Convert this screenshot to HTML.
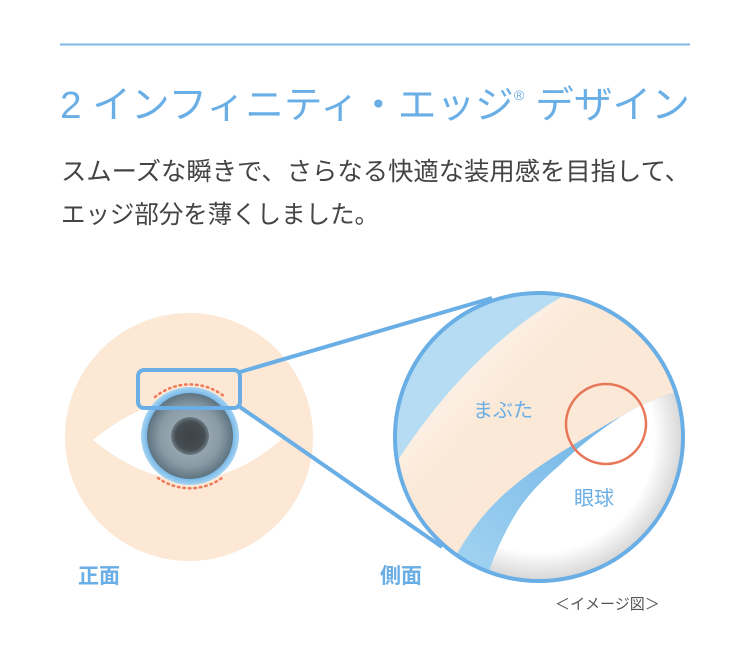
<!DOCTYPE html>
<html><head><meta charset="utf-8"><style>
html,body{margin:0;padding:0;background:#fff;}
svg{display:block;}
text{font-family:"Liberation Sans","Noto Sans CJK JP",sans-serif;}
</style></head><body>
<svg width="750" height="672" viewBox="0 0 750 672" xmlns="http://www.w3.org/2000/svg">
<defs>
<clipPath id="bc"><circle cx="539" cy="437" r="144"/></clipPath>
<radialGradient id="iris" cx="50%" cy="50%" r="50%">
<stop offset="0" stop-color="#a9b8c1"/><stop offset="0.7" stop-color="#8a9ba6"/><stop offset="1" stop-color="#5f7480"/></radialGradient>
<radialGradient id="pupil" cx="50%" cy="50%" r="50%">
<stop offset="0" stop-color="#3d4449"/><stop offset="0.75" stop-color="#454c52"/><stop offset="1" stop-color="#6d7a83"/></radialGradient>
<radialGradient id="ring" cx="50%" cy="50%" r="50%">
<stop offset="0.85" stop-color="#6fb3e6"/><stop offset="1" stop-color="#a6d4f2"/></radialGradient>
<radialGradient id="eb" cx="539" cy="437" r="144" gradientUnits="userSpaceOnUse">
<stop offset="0.8" stop-color="#fff"/><stop offset="1" stop-color="#d6d6d6"/></radialGradient>
<linearGradient id="lid" x1="0" y1="0" x2="1" y2="1">
<stop offset="0" stop-color="#fff"/><stop offset="0.35" stop-color="#fbe9d8"/><stop offset="1" stop-color="#fbe6d3"/></linearGradient>
<linearGradient id="wedge" x1="0" y1="1" x2="1" y2="0">
<stop offset="0" stop-color="#a9d7f3"/><stop offset="1" stop-color="#5ea9e2"/></linearGradient>
</defs>
<line x1="60" y1="44.5" x2="690" y2="44.5" stroke="#7db6e8" stroke-width="2"/>
<text x="60" y="118" font-size="38" fill="#6aaee6" textLength="630" lengthAdjust="spacingAndGlyphs">2 インフィニティ・エッジ<tspan font-size="14" dy="-18">®</tspan><tspan dy="18"> デザイン</tspan></text>
<text x="61" y="180" font-size="25" fill="#444" textLength="629" lengthAdjust="spacingAndGlyphs">スムーズな瞬きで、さらなる快適な装用感を目指して、</text>
<text x="61" y="223" font-size="25" fill="#444" textLength="318" lengthAdjust="spacingAndGlyphs">エッジ部分を薄くしました。</text>

<!-- front view -->
<circle cx="189" cy="437" r="124" fill="#fce8d4"/>
<path d="M93 440 Q190 360 283 438 Q190 520 93 440Z" fill="#fff"/>
<circle cx="190" cy="436" r="49" fill="url(#ring)"/>
<circle cx="190" cy="436" r="43" fill="url(#iris)"/>
<circle cx="190" cy="436" r="19" fill="url(#pupil)"/>
<path d="M155 397 A55 55 0 0 1 225 397" fill="none" stroke="#ee7a5a" stroke-width="2.5" stroke-dasharray="1.5 4" stroke-linecap="round"/>
<path d="M158 478 A55 55 0 0 0 222 478" fill="none" stroke="#ee7a5a" stroke-width="2.5" stroke-dasharray="1.5 4" stroke-linecap="round"/>
<rect x="138" y="370" width="102" height="38" rx="6" fill="none" stroke="#6aaee6" stroke-width="4"/>
<line x1="240" y1="372" x2="492" y2="298" stroke="#6aaee6" stroke-width="4"/>
<line x1="240" y1="407" x2="442" y2="547" stroke="#6aaee6" stroke-width="4"/>

<!-- side view -->
<g clip-path="url(#bc)">
<rect x="390" y="290" width="300" height="300" fill="#b5dcf3"/>
<path d="M563 296 Q470 350 398 460 L398 600 L700 600 L700 290Z" fill="url(#lid)"/>
<path d="M700 385 L673 393 Q645 402 623 415 Q600 428 573 445 Q530 470 500 498 Q475 522 458 552 L450 600 L700 600Z" fill="url(#wedge)"/>
<path d="M700 385 L673 393 Q645 402 623 415 Q585 440 560 465 Q530 490 515 515 Q500 540 490 568 L488 600 L700 600Z" fill="url(#eb)"/>
</g>
<circle cx="539" cy="437" r="144" fill="none" stroke="#6aaee6" stroke-width="4"/>
<circle cx="606" cy="424" r="40" fill="none" stroke="#e8775a" stroke-width="2.5"/>
<text x="473" y="417" font-size="20" fill="#6aaee6">まぶた</text>
<text x="574" y="505" font-size="20" fill="#6aaee6">眼球</text>
<text x="78" y="583" font-size="21" font-weight="bold" fill="#6aaee6">正面</text>
<text x="380" y="583" font-size="21" font-weight="bold" fill="#6aaee6">側面</text>
<text x="555" y="609" font-size="15" fill="#555">＜イメージ図＞</text>
</svg>
</body></html>
